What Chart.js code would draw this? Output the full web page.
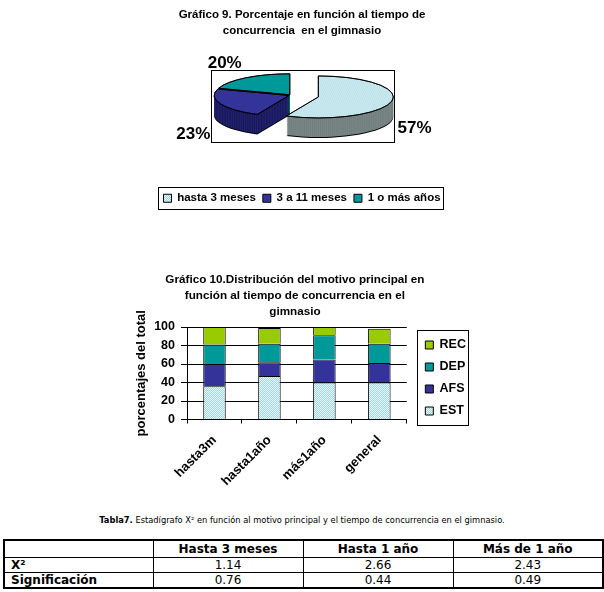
<!DOCTYPE html>
<html><head><meta charset="utf-8">
<script src="https://cdn.jsdelivr.net/npm/chart.js@4.4.0/dist/chart.umd.min.js"></script>
<style>
html,body{margin:0;padding:0;background:#fff;width:604px;height:592px;overflow:hidden;position:relative}
#c1{position:absolute;left:0;top:0}
#c2{position:absolute;left:0;top:258px}
#cap{position:absolute;left:0;top:515px;width:604px;text-align:center;font-family:"DejaVu Sans",Verdana,sans-serif;font-size:8.3px;color:#000;white-space:nowrap}
#tbl{position:absolute;left:3px;top:539px;width:600px;border-collapse:collapse;border:2px solid #000;font-family:"DejaVu Sans",Verdana,sans-serif;font-size:12px;color:#000;table-layout:fixed}
#tbl td,#tbl th{border:1px solid #000;padding:0;text-align:center;line-height:14px}
#tbl th{font-weight:bold}
#tbl th.l{text-align:left;padding-left:6px}
</style>
</head><body>
<canvas id="c1" width="604" height="215"></canvas>
<canvas id="c2" width="604" height="240"></canvas>
<div id="cap"><b>Tabla7.</b> Estadígrafo X² en función al motivo principal y el tiempo de concurrencia en el gimnasio.</div>
<table id="tbl"></table>
<script>
// ---------- data ----------
const pieTitle = ['Gráfico 9. Porcentaje en función al tiempo de', 'concurrencia  en el gimnasio'];
const pieLabels = ['hasta 3 meses', '3 a 11 meses', '1 o más años'];
const pieValues = [57, 23, 20];

const barTitle = ['Gráfico 10.Distribución del motivo principal en', 'función al tiempo de concurrencia en el', 'gimnasio'];
const barCategories = ['hasta3m', 'hasta1año', 'más1año', 'general'];
const estValues = [36, 47, 40, 40];
const afsValues = [24, 15, 25, 21];
const depValues = [21, 20, 26, 21];
const recValues = [19, 17, 9, 16];
const yTicks = [0, 20, 40, 60, 80, 100];

const tableHeaders = ['Hasta 3 meses', 'Hasta 1 año', 'Más de 1 año'];
const tableRowLabels = ['X²', 'Significación'];
const chiValues = [1.14, 2.66, 2.43];
const sigValues = [0.76, 0.44, 0.49];

// ---------- styles ----------
const FONT = '"Liberation Sans", Arial, sans-serif';
Chart.defaults.font.family = FONT;
Chart.defaults.color = '#000';

function dither(c1, c2) {
  const p = document.createElement('canvas'); p.width = 2; p.height = 2;
  const g = p.getContext('2d');
  g.fillStyle = c1; g.fillRect(0, 0, 2, 2);
  g.fillStyle = c2; g.fillRect(1, 0, 1, 1); g.fillRect(0, 1, 1, 1);
  return g.createPattern(p, 'repeat');
}
const lightFill = dither('#e6f8fa', '#a3d5e0');
const pieTopFills = [lightFill, '#333399', '#009999'];
const pieSideFills = [dither('#8e9696', '#5e7070'), dither('#2b2b80', '#10104a'), dither('#007777', '#003d3d')];

// 3D projection settings
const TILT = 0.28, DEPTH = 19, SHIFT_X = -11, SHIFT_Y = -21;
const EXPLODE = [28, 2, 2];

function arcGeom(arc, i) {
  const p = arc.getProps(['x', 'y', 'startAngle', 'endAngle', 'outerRadius']);
  const h = (p.startAngle + p.endAngle) / 2;
  return {
    X: p.x + SHIFT_X + Math.cos(h) * EXPLODE[i],
    Y: p.y + SHIFT_Y + Math.sin(h) * EXPLODE[i] * TILT,
    r: p.outerRadius, s: p.startAngle, e: p.endAngle, h
  };
}

function drawArcAt(ctx, arc, i, dy, opts) {
  const p = arc.getProps(['startAngle', 'endAngle']);
  const h = (p.startAngle + p.endAngle) / 2;
  ctx.save();
  ctx.translate(Math.cos(h) * EXPLODE[i], Math.sin(h) * EXPLODE[i] + dy);
  const saved = arc.options;
  if (opts) arc.options = Object.assign(Object.create(saved), opts);
  arc.draw(ctx);
  arc.options = saved;
  ctx.restore();
}

const pie3d = {
  id: 'pie3d',
  beforeDatasetDraw() { return false; },
  afterDatasetsDraw(chart) {
    const ctx = chart.ctx, meta = chart.getDatasetMeta(0);
    const cx = meta.data[0].x, cy = meta.data[0].y;
    ctx.save();
    ctx.translate(cx + SHIFT_X, cy + SHIFT_Y);
    ctx.scale(1, TILT);
    ctx.translate(-cx, -cy);
    for (let d = DEPTH + 1; d >= 1; d--) {
      meta.data.forEach((arc, i) => drawArcAt(ctx, arc, i, d / TILT, {
        backgroundColor: d === DEPTH + 1 ? '#000' : pieSideFills[i], borderWidth: 0
      }));
    }
    meta.data.forEach((arc, i) => drawArcAt(ctx, arc, i, 0, null));
    ctx.restore();

    ctx.save();
    ctx.strokeStyle = '#000'; ctx.lineWidth = 1;
    meta.data.forEach((arc, i) => {
      const g = arcGeom(arc, i);
      ctx.beginPath();
      ctx.moveTo(g.X, g.Y);
      ctx.ellipse(g.X, g.Y, g.r, g.r * TILT, 0, g.s, g.e);
      ctx.closePath();
      ctx.stroke();
    });
    // frame around plot
    const fx = cx + SHIFT_X, fy = cy + SHIFT_Y;
    ctx.strokeRect(Math.round(fx - 80) + 0.5, Math.round(fy - 25) + 0.5, 183, 72);
    // percentage labels
    ctx.font = 'bold 17px ' + FONT;
    ctx.fillStyle = '#000';
    ctx.textBaseline = 'middle';
    const total = pieValues.reduce((a, b) => a + b, 0);
    meta.data.forEach((arc, i) => {
      const g = arcGeom(arc, i);
      const cs = Math.cos(g.h), sn = Math.sin(g.h);
      let x = g.X + cs * g.r, y = g.Y + sn * g.r * TILT;
      x += cs >= 0 ? 6 : (sn > 0 ? -10 : -4);
      y += sn > 0 ? DEPTH + (cs >= 0 ? 8 : 11) : -14;
      ctx.textAlign = cs >= 0 ? 'left' : 'right';
      ctx.fillText(Math.round(pieValues[i] / total * 100) + '%', x, y);
    });
    ctx.restore();
  },
  afterDraw(chart) {
    const hb = chart.legend.legendHitBoxes;
    if (!hb || !hb.length) return;
    const ctx = chart.ctx;
    let minX = Infinity, maxX = -Infinity, cy = 0;
    hb.forEach(b => { minX = Math.min(minX, b.left); maxX = Math.max(maxX, b.left + b.width); cy = b.top + b.height / 2; });
    ctx.save(); ctx.strokeStyle = '#000'; ctx.lineWidth = 1;
    ctx.strokeRect(Math.round(minX - 5) + 0.5, Math.round(cy - 11) + 0.5, Math.round(maxX - minX + 8), 22);
    ctx.restore();
  }
};

new Chart(document.getElementById('c1'), {
  type: 'pie',
  data: {
    labels: pieLabels,
    datasets: [{
      data: pieValues,
      backgroundColor: pieTopFills,
      borderColor: '#000',
      borderWidth: 1,
      radius: 75,
      clip: false
    }]
  },
  options: {
    responsive: false, animation: false,
    layout: { padding: { top: 0, bottom: 1, left: 0, right: 0 } },
    plugins: {
      title: { display: true, text: pieTitle, color: '#000', font: { size: 11.5, weight: 'bold', lineHeight: '16px' }, padding: { top: 7, bottom: 8 } },
      legend: { position: 'bottom', labels: { boxWidth: 8, boxHeight: 8, padding: 7, color: '#000', font: { size: 11.5, weight: 'bold' } } },
      tooltip: { enabled: false }
    }
  },
  plugins: [pie3d]
});

// ---------- bar chart ----------
const barDecor = {
  id: 'barDecor',
  afterLayout(chart) {
    // center the title block over the plot area
    const t = chart.titleBlock;
    const w = t.right - t.left;
    const c = (chart.chartArea.left + chart.chartArea.right) / 2 - 2;
    t.left = c - w / 2; t.right = c + w / 2;
  },
  afterDraw(chart) {
    const hb = chart.legend.legendHitBoxes;
    if (!hb || !hb.length) return;
    const ctx = chart.ctx;
    let minX = Infinity, maxX = -Infinity, minC = Infinity, maxC = -Infinity;
    hb.forEach(b => {
      minX = Math.min(minX, b.left); maxX = Math.max(maxX, b.left + b.width);
      const c = b.top + b.height / 2; minC = Math.min(minC, c); maxC = Math.max(maxC, c);
    });
    ctx.save(); ctx.strokeStyle = '#000'; ctx.lineWidth = 1;
    ctx.strokeRect(Math.round(minX - 8) + 0.5, Math.round(minC - 15) + 0.5, Math.round(maxX - minX + 10), Math.round(maxC - minC + 29));
    ctx.restore();
  }
};

new Chart(document.getElementById('c2'), {
  type: 'bar',
  data: {
    labels: barCategories,
    datasets: [
      { label: 'EST', data: estValues, backgroundColor: lightFill },
      { label: 'AFS', data: afsValues, backgroundColor: '#333399' },
      { label: 'DEP', data: depValues, backgroundColor: '#009999' },
      { label: 'REC', data: recValues, backgroundColor: '#99cc00' }
    ].map(d => Object.assign(d, { borderColor: '#000', borderWidth: 1, barPercentage: 0.41, categoryPercentage: 1 }))
  },
  options: {
    responsive: false, animation: false,
    layout: { padding: { top: 0, bottom: 0, left: 130, right: 131 } },
    scales: {
      x: {
        stacked: true,
        grid: { offset: true, drawOnChartArea: true, color: c => c.index === barCategories.length ? '#000' : 'rgba(0,0,0,0)', tickColor: '#000', tickLength: 4 },
        border: { color: '#000' },
        ticks: { minRotation: 45, maxRotation: 45, color: '#000', font: { size: 13, weight: 'bold' }, padding: 9 }
      },
      y: {
        stacked: true, min: 0, max: 100,
        afterBuildTicks: s => { s.ticks = yTicks.map(v => ({ value: v })); },
        afterFit: s => { s.width = 57; },
        grid: { color: '#000', tickColor: '#000', tickLength: 6 },
        border: { color: '#000' },
        ticks: { autoSkip: false, color: '#000', font: { size: 12.5, weight: 'bold' }, padding: 6 },
        title: { display: true, text: 'porcentajes del total', color: '#000', font: { size: 13, weight: 'bold' }, padding: { top: 4, bottom: 4 } }
      },
      spacer: {
        position: 'right', display: true, afterFit: s => { s.width = 9; },
        ticks: { display: false }, grid: { display: false }, border: { display: false }
      }
    },
    plugins: {
      title: { display: true, text: barTitle, color: '#000', font: { size: 11.7, weight: 'bold', lineHeight: '16px' }, padding: { top: 14, bottom: 7 } },
      legend: { position: 'right', reverse: true, labels: { boxWidth: 8, boxHeight: 8, padding: 9.5, color: '#000', font: { size: 12.5, weight: 'bold' } } },
      tooltip: { enabled: false }
    }
  },
  plugins: [barDecor]
});

// ---------- table ----------
(function () {
  const t = document.getElementById('tbl');
  const colW = [149, 150, 150, 150];
  let html = '<colgroup>' + colW.map(w => '<col style="width:' + w + 'px">').join('') + '</colgroup>';
  html += '<tr style="height:17px"><th></th>' + tableHeaders.map(h => '<th>' + h + '</th>').join('') + '</tr>';
  const rows = [chiValues, sigValues];
  rows.forEach((r, i) => {
    html += '<tr style="height:15px"><th class="l">' + tableRowLabels[i] + '</th>' + r.map(v => '<td>' + v.toFixed(2) + '</td>').join('') + '</tr>';
  });
  t.innerHTML = html;
})();
</script>
</body></html>
